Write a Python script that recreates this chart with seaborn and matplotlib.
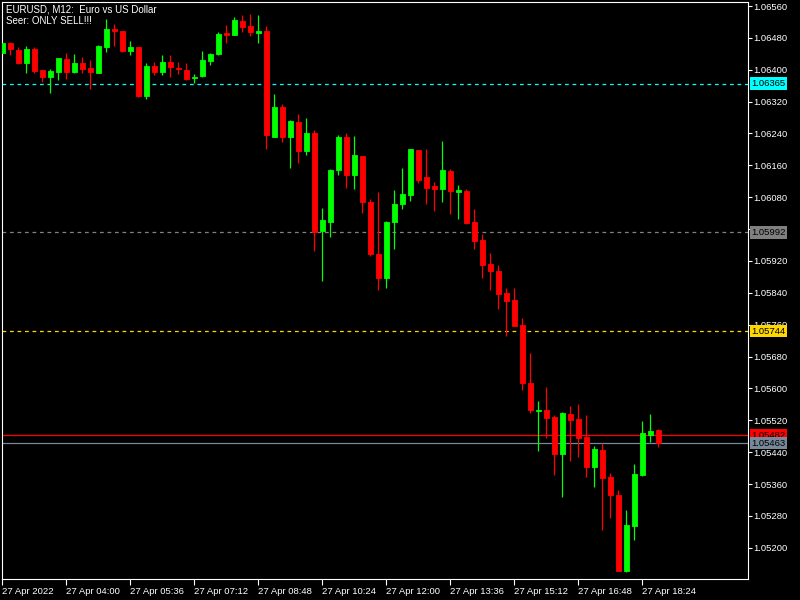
import matplotlib
matplotlib.use("Agg")
import matplotlib.pyplot as plt
import matplotlib.transforms as mtransforms
import pandas as pd
import seaborn as sns

# EURUSD M12 candles
opens = [1.06442, 1.06466, 1.06450, 1.06416, 1.06452, 1.06399, 1.06383, 1.06395, 1.06426, 1.06395,
         1.06418, 1.06404, 1.06393, 1.06458, 1.06502, 1.06497, 1.06448, 1.06457, 1.06334, 1.06409,
         1.06395, 1.06420, 1.06405, 1.06399, 1.06379, 1.06384, 1.06423, 1.06439, 1.06492, 1.06486,
         1.06522, 1.06510, 1.06493, 1.06497, 1.06232, 1.06307, 1.06230, 1.06269, 1.06197, 1.06241,
         1.05996, 1.06019, 1.06148, 1.06231, 1.06136, 1.06184, 1.06069, 1.05938, 1.05878, 1.06019,
         1.06063, 1.06086, 1.06199, 1.06131, 1.06108, 1.06101, 1.06146, 1.06094, 1.06096, 1.06018,
         1.05973, 1.05913, 1.05895, 1.05840, 1.05822, 1.05759, 1.05614, 1.05544, 1.05546, 1.05528,
         1.05436, 1.05536, 1.05523, 1.05478, 1.05403, 1.05446, 1.05378, 1.05333, 1.05142, 1.05255,
         1.05383, 1.05483, 1.05496]
highs = [1.06470, 1.06470, 1.06458, 1.06460, 1.06458, 1.06399, 1.06401, 1.06429, 1.06443, 1.06440,
         1.06433, 1.06425, 1.06462, 1.06527, 1.06515, 1.06497, 1.06472, 1.06457, 1.06418, 1.06420,
         1.06437, 1.06437, 1.06420, 1.06416, 1.06389, 1.06447, 1.06443, 1.06494, 1.06512, 1.06533,
         1.06537, 1.06539, 1.06537, 1.06510, 1.06339, 1.06314, 1.06274, 1.06289, 1.06279, 1.06249,
         1.06053, 1.06151, 1.06236, 1.06241, 1.06234, 1.06184, 1.06076, 1.06094, 1.06021, 1.06098,
         1.06154, 1.06201, 1.06199, 1.06201, 1.06119, 1.06221, 1.06151, 1.06111, 1.06101, 1.06051,
         1.05988, 1.05940, 1.05910, 1.05852, 1.05852, 1.05777, 1.05689, 1.05569, 1.05604, 1.05533,
         1.05541, 1.05556, 1.05561, 1.05533, 1.05456, 1.05463, 1.05388, 1.05345, 1.05295, 1.05411,
         1.05518, 1.05536, 1.05498]
lows = [1.06437, 1.06437, 1.06414, 1.06393, 1.06393, 1.06370, 1.06341, 1.06374, 1.06377, 1.06393,
        1.06391, 1.06351, 1.06393, 1.06445, 1.06460, 1.06445, 1.06437, 1.06332, 1.06327, 1.06387,
        1.06387, 1.06383, 1.06389, 1.06374, 1.06367, 1.06383, 1.06412, 1.06437, 1.06466, 1.06486,
        1.06496, 1.06485, 1.06466, 1.06201, 1.06232, 1.06219, 1.06154, 1.06167, 1.06186, 1.05946,
        1.05871, 1.05981, 1.06136, 1.06104, 1.06101, 1.06040, 1.05933, 1.05847, 1.05853, 1.05950,
        1.06051, 1.06071, 1.06116, 1.06063, 1.06046, 1.06069, 1.06039, 1.06025, 1.06013, 1.05950,
        1.05878, 1.05847, 1.05800, 1.05732, 1.05757, 1.05596, 1.05539, 1.05443, 1.05476, 1.05383,
        1.05328, 1.05418, 1.05428, 1.05378, 1.05353, 1.05245, 1.05275, 1.05142, 1.05139, 1.05220,
        1.05380, 1.05466, 1.05453]
closes = [1.06467, 1.06451, 1.06416, 1.06451, 1.06398, 1.06383, 1.06397, 1.06429, 1.06395, 1.06418,
          1.06402, 1.06395, 1.06460, 1.06502, 1.06498, 1.06447, 1.06457, 1.06334, 1.06409, 1.06395,
          1.06420, 1.06406, 1.06401, 1.06377, 1.06383, 1.06425, 1.06440, 1.06490, 1.06486, 1.06525,
          1.06508, 1.06496, 1.06497, 1.06235, 1.06307, 1.06230, 1.06271, 1.06197, 1.06241, 1.05994,
          1.06023, 1.06148, 1.06231, 1.06136, 1.06186, 1.06069, 1.05938, 1.05878, 1.06019, 1.06063,
          1.06088, 1.06201, 1.06123, 1.06104, 1.06101, 1.06148, 1.06096, 1.06098, 1.06015, 1.05971,
          1.05910, 1.05895, 1.05837, 1.05820, 1.05757, 1.05614, 1.05546, 1.05546, 1.05526, 1.05436,
          1.05539, 1.05521, 1.05476, 1.05403, 1.05448, 1.05375, 1.05333, 1.05142, 1.05257, 1.05385,
          1.05488, 1.05493, 1.05463]

time_labels = ["27 Apr 2022", "27 Apr 04:00", "27 Apr 05:36", "27 Apr 07:12", "27 Apr 08:48",
               "27 Apr 10:24", "27 Apr 12:00", "27 Apr 13:36", "27 Apr 15:12", "27 Apr 16:48",
               "27 Apr 18:24"]
time_tick_bars = [0, 8, 16, 24, 32, 40, 48, 56, 64, 72, 80]
price_ticks = [1.05200, 1.05280, 1.05360, 1.05440, 1.05520, 1.05600, 1.05680, 1.05760,
               1.05840, 1.05920, 1.06000, 1.06080, 1.06160, 1.06240, 1.06320, 1.06400,
               1.06480, 1.06560]

# horizontal levels: value, line colour, dashed?
level_values = [1.06365, 1.05992, 1.05744, 1.05482, 1.05463]
level_colors = ["#00FFFF", "#808080", "#FFD700", "#FF0000", "#778899"]
level_dashed = [True, True, True, False, False]

df = pd.DataFrame({"open": opens, "high": highs, "low": lows, "close": closes})
df["bar"] = range(len(df))
df["up"] = df["close"] >= df["open"]
df["color"] = df["up"].map({True: "#00FF00", False: "#FF0000"})
df["body_low"] = df[["open", "close"]].min(axis=1)
df["body_h"] = (df["open"] - df["close"]).abs()

sns.set_theme(style="dark", rc={"axes.facecolor": "black", "figure.facecolor": "black",
                                "axes.edgecolor": "white", "text.color": "white",
                                "xtick.color": "white", "ytick.color": "white"})
plt.rcParams['font.family'] = ['Liberation Sans', 'DejaVu Sans']

fig = plt.figure(figsize=(8, 6), dpi=100)
ax = fig.add_axes([0.0025, 0.035, 0.9325, 0.9617])

# wicks then bodies
ax.vlines(df["bar"], df["low"], df["high"], colors=df["color"], linewidth=0.9, zorder=2)
ax.bar(df["bar"], df["body_h"], bottom=df["body_low"], width=0.62, color=df["color"],
       edgecolor=df["color"], linewidth=0.6, zorder=3)

for val, col, dashed in zip(level_values, level_colors, level_dashed):
    if dashed:
        ax.axhline(val, color=col, linewidth=0.9, dashes=(3, 3), zorder=1)
    else:
        ax.axhline(val, color=col, linewidth=0.9, zorder=1)

ax.set_xlim(-0.06, 93.19)
ax.set_ylim(1.051218, 1.065701)
ax.grid(False)

for s in ax.spines.values():
    s.set_color("white")
    s.set_linewidth(0.8)

ax.yaxis.tick_right()
ax.set_yticks(price_ticks)
ax.set_yticklabels([f"{v:.5f}" for v in price_ticks])
ax.tick_params(axis="y", direction="out", length=3, width=0.8, pad=1, labelsize=6.8,
               colors="white", right=True, left=False)
ax.set_xticks(time_tick_bars)
ax.set_xticklabels(time_labels, ha="left")
ax.tick_params(axis="x", direction="out", length=4, width=0.8, pad=1.5, labelsize=6.8,
               colors="white", bottom=True)
ax.set_xlabel("")
ax.set_ylabel("")

# price labels on the right scale
trans = mtransforms.blended_transform_factory(ax.transAxes, ax.transData)
for val, col in zip(level_values, level_colors):
    ax.text(1.0043, val, f"{val:.5f}", transform=trans, ha="left", va="center",
            fontsize=6.8, color="black", clip_on=False, zorder=10,
            bbox=dict(boxstyle="square,pad=0.18", facecolor=col, edgecolor="none"))

fig.text(6 / 800, 1 - 9.5 / 600, "EURUSD, M12:  Euro vs US Dollar", fontsize=7,
         color="white", ha="left", va="center")
fig.text(6 / 800, 1 - 20.5 / 600, "Seer: ONLY SELL!!!", fontsize=7,
         color="white", ha="left", va="center")

fig.savefig("out.png", dpi=100, facecolor="black")
